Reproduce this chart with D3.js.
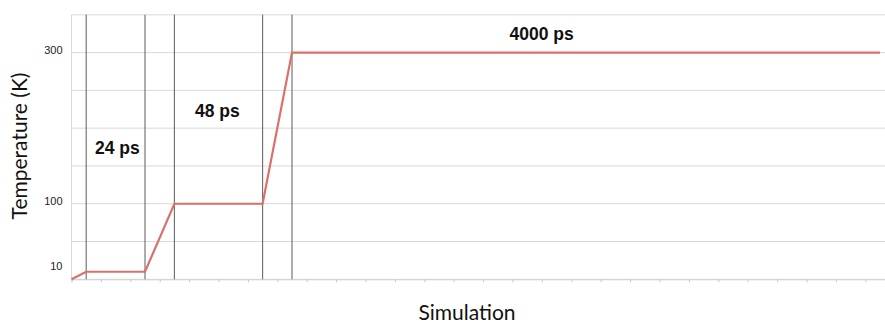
<!DOCTYPE html>
<html>
<head>
<meta charset="utf-8">
<script src="https://cdn.jsdelivr.net/npm/d3@7"></script>
<style>
  html, body { margin: 0; padding: 0; background: #fff; }
  svg { display: block; }
</style>
</head>
<body>
<svg id="chart" width="885" height="324"></svg>
<script>
// ---- data ----
const stepX = [0, 0.5, 2.5, 3.5, 6.5, 7.5, 27.5];          // simulation progress (tick units)
const temperature = [0, 10, 10, 100, 100, 300, 300];       // K
const phaseLines = [0.5, 2.5, 3.5, 6.5, 7.5];              // vertical separators
const phaseLabels = ["24 ps", "48 ps", "4000 ps"];
const phaseLabelX = [0.8, 4.2, 14.9];
const yTickLabels = [10, 100, 300];
const yGrid = [0, 50, 100, 150, 200, 250, 300, 350];
const xTicks = d3.range(0, 29);

// ---- layout ----
const svg = d3.select("#chart");
const x = d3.scaleLinear().domain([0, 28]).range([71.5, 894.7]);
const y = d3.scaleLinear().domain([0, 350]).range([279.3, 14.8]);

// horizontal grid lines
svg.append("g").selectAll("line").data(yGrid).join("line")
  .attr("x1", x(0)).attr("x2", 885)
  .attr("y1", d => y(d)).attr("y2", d => y(d))
  .attr("stroke", "#d9d9d9").attr("stroke-width", 1);

// left axis line
svg.append("line")
  .attr("x1", x(0)).attr("x2", x(0))
  .attr("y1", y(350)).attr("y2", y(0))
  .attr("stroke", "#d9d9d9").attr("stroke-width", 1);

// x axis ticks
const xAxis = d3.axisBottom(x).tickValues(xTicks).tickSize(3).tickFormat("");
const gx = svg.append("g").attr("transform", `translate(0,${y(0)})`).call(xAxis);
gx.select(".domain").attr("stroke", "#d0d0d0");
gx.selectAll(".tick line").attr("stroke", "#c8c8c8");

// y tick labels
const yAxis = d3.axisLeft(y).tickValues(yTickLabels).tickSize(0).tickPadding(9);
const gy = svg.append("g").attr("transform", `translate(${x(0)},0)`).call(yAxis);
gy.select(".domain").remove();
gy.selectAll("text")
  .attr("font-family", "'Liberation Sans', Arial, sans-serif")
  .attr("font-size", 11).attr("fill", "#222")
  .attr("dy", "0.05em");
gy.selectAll(".tick").filter(d => d === 10).select("text").attr("dy", "-0.2em");

// vertical phase separators
svg.append("g").selectAll("line").data(phaseLines).join("line")
  .attr("x1", d => x(d)).attr("x2", d => x(d))
  .attr("y1", y(350)).attr("y2", y(0))
  .attr("stroke", "#6a6a6a").attr("stroke-width", 1.1);

// temperature line
const line = d3.line().x((d, i) => x(stepX[i])).y(d => y(d));
svg.append("path")
  .datum(temperature)
  .attr("d", line)
  .attr("fill", "none")
  .attr("stroke", "#d9706c")
  .attr("stroke-width", 2.2)
  .attr("stroke-linejoin", "miter");

// phase labels
const labelBase = [154, 117, 40];
svg.append("g").selectAll("text").data(phaseLabels).join("text")
  .attr("x", (d, i) => x(phaseLabelX[i]))
  .attr("y", (d, i) => labelBase[i])
  .attr("font-family", "'Liberation Sans', Arial, sans-serif")
  .attr("font-weight", "bold")
  .attr("font-size", 17.5)
  .attr("fill", "#111")
  .text(d => d);

// axis titles
svg.append("text")
  .attr("x", 467).attr("y", 320)
  .attr("text-anchor", "middle")
  .attr("font-family", "Lato, 'Open Sans', sans-serif")
  .attr("font-size", 21)
  .attr("fill", "#111")
  .text("Simulation");

svg.append("text")
  .attr("transform", "translate(27,146) rotate(-90)")
  .attr("text-anchor", "middle")
  .attr("font-family", "Lato, 'Open Sans', sans-serif")
  .attr("font-size", 21)
  .attr("fill", "#111")
  .text("Temperature (K)");
</script>
</body>
</html>
